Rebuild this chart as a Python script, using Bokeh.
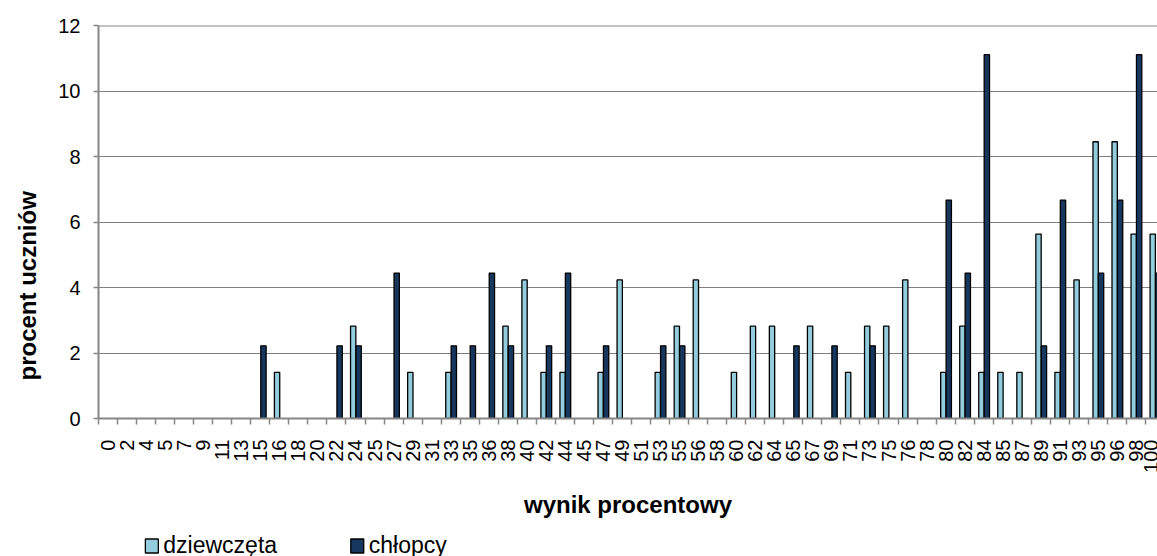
from math import pi
from bokeh.plotting import figure
from bokeh.layouts import column
from bokeh.core.properties import value
from bokeh.models import Range1d, FixedTicker, Span, Title, ColumnDataSource
from bokeh.embed import file_html
from bokeh.resources import INLINE

# ---- data ----
categories = ["0", "2", "4", "5", "7", "9", "11", "13", "15", "16", "18", "20",
              "22", "24", "25", "27", "29", "31", "33", "35", "36", "38", "40",
              "42", "44", "45", "47", "49", "51", "53", "55", "56", "58", "60",
              "62", "64", "65", "67", "69", "71", "73", "75", "76", "78", "80",
              "82", "84", "85", "87", "89", "91", "93", "95", "96", "98", "100"]

dziewczeta = {"16": 1.41, "24": 2.82, "29": 1.41, "33": 1.41, "38": 2.82,
              "40": 4.23, "42": 1.41, "44": 1.41, "47": 1.41, "49": 4.23,
              "53": 1.41, "55": 2.82, "56": 4.23, "60": 1.41, "62": 2.82,
              "64": 2.82, "67": 2.82, "71": 1.41, "73": 2.82, "75": 2.82,
              "76": 4.23, "80": 1.41, "82": 2.82, "84": 1.41, "85": 1.41,
              "87": 1.41, "89": 5.63, "91": 1.41, "93": 4.23, "95": 8.45,
              "96": 8.45, "98": 5.63, "100": 5.63}

chlopcy = {"15": 2.22, "22": 2.22, "24": 2.22, "27": 4.44, "33": 2.22,
           "35": 2.22, "36": 4.44, "38": 2.22, "42": 2.22, "44": 4.44,
           "47": 2.22, "53": 2.22, "55": 2.22, "65": 2.22, "69": 2.22,
           "73": 2.22, "80": 6.67, "82": 4.44, "84": 11.11, "89": 2.22,
           "91": 6.67, "95": 4.44, "96": 6.67, "98": 11.11, "100": 4.44}

series_names = ["dziewczęta", "chłopcy"]
series_colors = ["#93CDDD", "#17375E"]

y_ticks = [0, 2, 4, 6, 8, 10, 12]

FONT = "Liberation Sans"
GRAY = "#868686"

idx = list(range(len(categories)))
pos = {c: i for i, c in enumerate(categories)}
src_g = ColumnDataSource(dict(x=[pos[c] - 0.12 for c in dziewczeta],
                              top=list(dziewczeta.values())))
src_b = ColumnDataSource(dict(x=[pos[c] + 0.165 for c in chlopcy],
                              top=list(chlopcy.values())))

p = figure(width=1157, height=530, output_backend="svg", toolbar_location=None,
           x_range=Range1d(-0.5, 55.13), y_range=Range1d(0, 12),
           min_border_left=95, min_border_right=0, min_border_top=25,
           min_border_bottom=112)
p.outline_line_color = None
p.background_fill_color = "white"
p.border_fill_color = "white"

p.vbar(x="x", top="top", width=0.28, bottom=0, source=src_g,
       fill_color=series_colors[0], line_color="black", line_width=1.3)
p.vbar(x="x", top="top", width=0.28, bottom=0, source=src_b,
       fill_color=series_colors[1], line_color="black", line_width=1.3)

# top border of plot area
p.add_layout(Span(location=12, dimension="width", line_color=GRAY, line_width=2))

# grid
p.xgrid.grid_line_color = None
p.ygrid.ticker = FixedTicker(ticks=y_ticks)
p.ygrid.grid_line_color = "black"
p.ygrid.grid_line_dash = "1 1"
p.ygrid.grid_line_width = 1

# y axis
ya = p.yaxis[0]
ya.ticker = FixedTicker(ticks=y_ticks)
ya.axis_line_color = GRAY
ya.axis_line_width = 2
ya.major_tick_line_color = GRAY
ya.major_tick_line_width = 1.5
ya.major_tick_out = 5
ya.major_tick_in = 0
ya.minor_tick_line_color = None
ya.major_label_standoff = 13
ya.major_label_text_font = FONT
ya.major_label_text_font_size = "20px"
ya.major_label_text_color = "black"

# y title (left panel, outside the axis)
p.add_layout(Title(text="procent uczniów", align="left", offset=38,
                   vertical_align="top", standoff=26,
                   text_font=FONT, text_font_size="24px", text_font_style="bold",
                   text_color="black"), "left")

# x axis
xa = p.xaxis[0]
xa.ticker = FixedTicker(ticks=idx, minor_ticks=[i - 0.5 for i in range(len(categories) + 1)])
xa.major_label_overrides = {i: c for i, c in enumerate(categories)}
xa.major_label_orientation = pi / 2
xa.axis_line_color = GRAY
xa.axis_line_width = 2
xa.major_tick_line_color = None
xa.major_tick_out = 0
xa.major_tick_in = 0
xa.minor_tick_line_color = GRAY
xa.minor_tick_line_width = 1.5
xa.minor_tick_out = 6
xa.minor_tick_in = 0
xa.major_label_standoff = 15
xa.major_label_text_font = FONT
xa.major_label_text_font_size = "20px"
xa.major_label_text_color = "black"
xa.axis_label = "wynik procentowy"
xa.axis_label_text_font = FONT
xa.axis_label_text_font_size = "24px"
xa.axis_label_text_font_style = "bold"
xa.axis_label_text_color = "black"
xa.axis_label_standoff = 15

# ---- legend strip (frame aligned with the chart frame; x in page pixels) ----
legend_x = [142, 348]      # left edge of each legend swatch, px
lg = figure(width=1157, height=26, output_backend="svg", toolbar_location=None,
            x_range=Range1d(95, 1157), y_range=Range1d(26, 0),
            x_axis_location=None, y_axis_location=None,
            min_border_left=95, min_border_right=0, min_border_top=0,
            min_border_bottom=0)
lg.outline_line_color = None
lg.xgrid.visible = False
lg.ygrid.visible = False
lg.background_fill_color = "white"
lg.border_fill_color = "white"
lg.rect(x=[lx + 6.5 for lx in legend_x], y=[15.5, 15.5], width=13, height=14,
        fill_color=series_colors, line_color="black", line_width=1.3)
lg.text(x=[lx + 18 for lx in legend_x], y=[14, 14], text=series_names,
        text_baseline="middle", text_align="left", text_font=value(FONT),
        text_font_size="23px", text_color="black")

layout = column(p, lg, spacing=0)
open("out.html", "w").write(file_html(layout, INLINE))
